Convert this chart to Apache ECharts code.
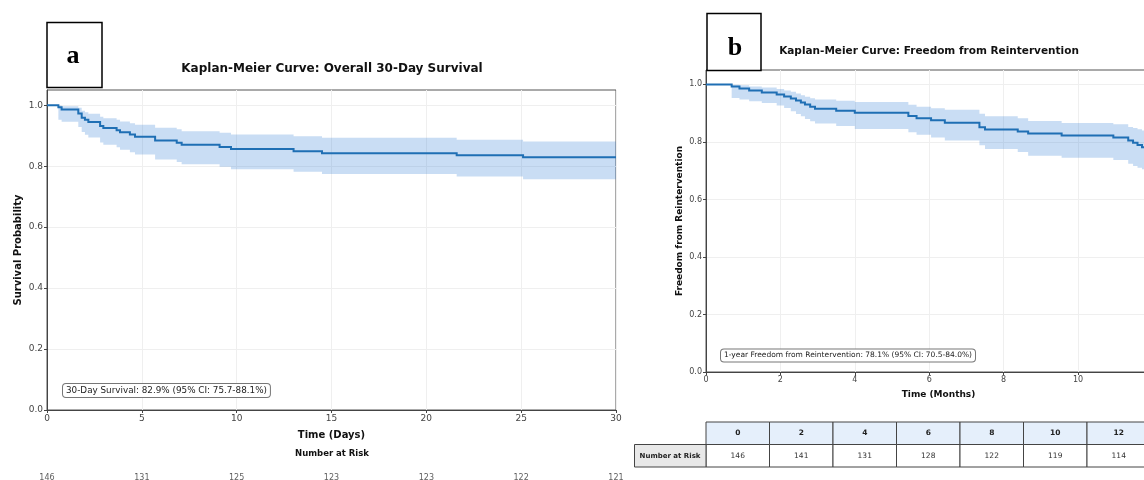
<!DOCTYPE html>
<html><head><meta charset="utf-8">
<script src="https://cdn.jsdelivr.net/npm/echarts@6/dist/echarts.min.js"></script>
<style>html,body{margin:0;padding:0;background:#fff}#c{width:1144px;height:480px}</style>
</head><body><div id="c"></div>
<script>
// ---- Panel a: overall 30-day survival (days) ----
const dayTimes = [0, 0.6, 0.77, 1.65, 1.83, 2.0, 2.18, 2.8, 2.97, 3.67, 3.85, 4.37, 4.64, 5.7, 6.84, 7.1, 9.1, 9.7, 13.0, 14.5, 21.6, 25.1, 30];
const daySurv  = [1.0, 0.993, 0.986, 0.973, 0.959, 0.952, 0.945, 0.932, 0.925, 0.918, 0.911, 0.904, 0.897, 0.884, 0.877, 0.870, 0.863, 0.856, 0.849, 0.8425, 0.8356, 0.829, 0.829];
const dayLower = [1.0, 0.952, 0.946, 0.929, 0.912, 0.903, 0.894, 0.878, 0.870, 0.862, 0.854, 0.846, 0.838, 0.822, 0.814, 0.806, 0.798, 0.790, 0.782, 0.774, 0.766, 0.757, 0.757];
const dayUpper = [1.0, 0.999, 0.997, 0.992, 0.982, 0.977, 0.972, 0.962, 0.957, 0.952, 0.947, 0.941, 0.936, 0.926, 0.921, 0.915, 0.910, 0.904, 0.898, 0.893, 0.887, 0.881, 0.881];
const riskDays = [0, 5, 10, 15, 20, 25, 30];
const riskDaysCount = [146, 131, 125, 123, 123, 122, 121];

// ---- Panel b: freedom from reintervention (months) ----
const monthTimes = [0, 0.69, 0.90, 1.16, 1.5, 1.90, 2.10, 2.28, 2.42, 2.55, 2.66, 2.80, 2.93, 3.50, 4.00, 5.44, 5.66, 6.05, 6.42, 7.35, 7.50, 8.38, 8.66, 9.56, 10.95, 11.35, 11.48, 11.60, 11.72, 12.5];
const monthSurv  = [1.0, 0.993, 0.986, 0.979, 0.972, 0.965, 0.958, 0.951, 0.944, 0.937, 0.930, 0.922, 0.915, 0.908, 0.901, 0.890, 0.882, 0.875, 0.867, 0.851, 0.843, 0.836, 0.829, 0.822, 0.815, 0.805, 0.797, 0.789, 0.781, 0.781];
const monthLower = [1.0, 0.953, 0.947, 0.941, 0.935, 0.927, 0.918, 0.907, 0.897, 0.889, 0.880, 0.872, 0.864, 0.855, 0.845, 0.834, 0.825, 0.815, 0.805, 0.788, 0.775, 0.765, 0.752, 0.745, 0.737, 0.724, 0.716, 0.710, 0.705, 0.705];
const monthUpper = [1.0, 0.999, 0.997, 0.993, 0.989, 0.984, 0.979, 0.974, 0.968, 0.962, 0.957, 0.952, 0.947, 0.943, 0.939, 0.929, 0.922, 0.917, 0.912, 0.898, 0.889, 0.882, 0.873, 0.866, 0.861, 0.852, 0.848, 0.844, 0.840, 0.840];
const riskMonths = ['0', '2', '4', '6', '8', '10', '12'];
const riskMonthsCount = [146, 141, 131, 128, 122, 119, 114];

const yTicks = [0, 0.2, 0.4, 0.6, 0.8, 1.0];

const FONT = 'DejaVu Sans';
const LINE = '#1f6fb4';
const BAND = 'rgba(40,120,210,0.25)';
const chart = echarts.init(document.getElementById('c'));

function bandSeries(times, lower, upper, idx) {
  return {
    type: 'custom', xAxisIndex: idx, yAxisIndex: idx, silent: true, z: 1, animation: false,
    data: [[times[0], upper[0]]],
    renderItem: function (params, api) {
      const pts = [];
      for (let i = 0; i < times.length - 1; i++) {
        pts.push(api.coord([times[i], upper[i]]));
        pts.push(api.coord([times[i + 1], upper[i]]));
      }
      for (let i = times.length - 2; i >= 0; i--) {
        pts.push(api.coord([times[i + 1], lower[i]]));
        pts.push(api.coord([times[i], lower[i]]));
      }
      return { type: 'polygon', shape: { points: pts }, style: { fill: BAND } };
    }
  };
}
// Kaplan-Meier step line (post-step), drawn through the axis scales
function kmSeries(times, surv, idx) {
  return {
    type: 'custom', xAxisIndex: idx, yAxisIndex: idx, silent: true, z: 3, animation: false,
    data: [[times[0], surv[0]]],
    renderItem: function (params, api) {
      const pts = [];
      for (let i = 0; i < times.length - 1; i++) {
        pts.push(api.coord([times[i], surv[i]]));
        pts.push(api.coord([times[i + 1], surv[i]]));
      }
      pts.push(api.coord([times[times.length - 1], surv[surv.length - 1]]));
      return { type: 'polyline', shape: { points: pts },
               style: { stroke: LINE, lineWidth: 2, fill: null, lineJoin: 'miter' } };
    }
  };
}
const yFmt = v => (Math.abs(v * 5 - Math.round(v * 5)) < 1e-6 ? v.toFixed(1) : '');
function xAx(idx, max, interval, name, fs, nfs, gap) {
  return {
    gridIndex: idx, type: 'value', min: 0, max: max, interval: interval,
    name: name, nameLocation: 'middle', nameGap: gap,
    nameTextStyle: { fontFamily: FONT, fontWeight: 'bold', fontSize: nfs, color: '#111' },
    axisLine: { show: true, onZero: false, lineStyle: { color: '#444', width: 1 } },
    axisTick: { show: true, length: 3, lineStyle: { color: '#444' } },
    axisLabel: { fontFamily: FONT, fontSize: fs, color: '#444', margin: 4 },
    splitLine: { show: true, lineStyle: { color: '#efefef', width: 1 } }
  };
}
function yAx(idx, name, fs, nfs, gap) {
  return {
    gridIndex: idx, type: 'value', min: 0, max: 1.05, interval: 0.2,
    name: name, nameLocation: 'middle', nameGap: gap, nameRotate: 90,
    nameTextStyle: { fontFamily: FONT, fontWeight: 'bold', fontSize: nfs, color: '#111' },
    axisLine: { show: true, lineStyle: { color: '#444', width: 1 } },
    axisTick: { show: true, length: 3, lineStyle: { color: '#444' }, customValues: yTicks },
    axisLabel: { fontFamily: FONT, fontSize: fs, color: '#444', margin: 4, formatter: yFmt, customValues: yTicks },
    splitLine: { show: true, lineStyle: { color: '#efefef', width: 1 } }
  };
}

const option = {
  animation: false,
  backgroundColor: '#ffffff',
  grid: [
    { left: 47, top: 90, width: 569, height: 320, show: true, borderColor: '#555', borderWidth: 1, outerBoundsMode: 'none' },
    { left: 706, top: 70, width: 465, height: 302, show: true, borderColor: '#555', borderWidth: 1, outerBoundsMode: 'none' },
    { left: 47, top: 472, width: 569, height: 12, outerBoundsMode: 'none' },
    { left: 706, top: 422, width: 444.5, height: 45, outerBoundsMode: 'none' }
  ],
  xAxis: [
    xAx(0, 30, 5, 'Time (Days)', 9, 10, 20),
    xAx(1, 12.5, 2, 'Time (Months)', 8, 9, 18),
    { gridIndex: 2, type: 'value', min: 0, max: 30, show: false },
    { gridIndex: 3, type: 'category', data: riskMonths, show: false, boundaryGap: true }
  ],
  yAxis: [
    yAx(0, 'Survival Probability', 9, 10, 24),
    yAx(1, 'Freedom from Reintervention', 8, 9, 22),
    { gridIndex: 2, type: 'value', min: -1, max: 1, show: false },
    { gridIndex: 3, type: 'value', min: 0, max: 2, show: false }
  ],
  series: [
    bandSeries(dayTimes, dayLower, dayUpper, 0),
    kmSeries(dayTimes, daySurv, 0),
    bandSeries(monthTimes, monthLower, monthUpper, 1),
    kmSeries(monthTimes, monthSurv, 1),
    {
      type: 'scatter', xAxisIndex: 2, yAxisIndex: 2, silent: true, symbolSize: 1,
      itemStyle: { color: 'rgba(0,0,0,0)' },
      data: riskDays.map((d, i) => [d, 0, riskDaysCount[i]]),
      label: { show: true, position: 'inside', formatter: p => String(p.value[2]),
               fontFamily: FONT, fontSize: 8, color: '#333' }
    },
    {
      type: 'custom', xAxisIndex: 3, yAxisIndex: 3, silent: true,
      data: riskMonthsCount.map((n, i) => [i, 0, n]),
      renderItem: function (params, api) {
        const i = api.value(0);
        const cx = api.coord([i, 0])[0];
        const w = api.size([1, 0])[0];
        const yTop = api.coord([i, 2])[1], yMid = api.coord([i, 1])[1], yBot = api.coord([i, 0])[1];
        return { type: 'group', children: [
          { type: 'rect', shape: { x: cx - w / 2, y: yTop, width: w, height: yMid - yTop },
            style: { fill: '#e5effb', stroke: '#444', lineWidth: 1 } },
          { type: 'text', style: { x: cx, y: (yTop + yMid) / 2, text: riskMonths[params.dataIndex],
            align: 'center', verticalAlign: 'middle', fontFamily: FONT, fontWeight: 'bold', fontSize: 7.5, fill: '#222' } },
          { type: 'rect', shape: { x: cx - w / 2, y: yMid, width: w, height: yBot - yMid },
            style: { fill: '#ffffff', stroke: '#444', lineWidth: 1 } },
          { type: 'text', style: { x: cx, y: (yMid + yBot) / 2, text: String(api.value(2)),
            align: 'center', verticalAlign: 'middle', fontFamily: FONT, fontSize: 7.5, fill: '#333' } }
        ] };
      }
    }
  ],
  graphic: [
    { type: 'rect', z: 100, shape: { x: 47, y: 22.5, width: 55, height: 65 }, style: { fill: '#fff', stroke: '#000', lineWidth: 1.5 } },
    { type: 'text', z: 101, style: { x: 73, y: 56, text: 'a', align: 'center', verticalAlign: 'middle',
      fontFamily: 'Liberation Serif', fontWeight: 'bold', fontSize: 26, fill: '#000' } },
    { type: 'rect', z: 100, shape: { x: 707, y: 13.5, width: 54, height: 57 }, style: { fill: '#fff', stroke: '#000', lineWidth: 1.5 } },
    { type: 'text', z: 101, style: { x: 735, y: 48, text: 'b', align: 'center', verticalAlign: 'middle',
      fontFamily: 'Liberation Serif', fontWeight: 'bold', fontSize: 26, fill: '#000' } },
    { type: 'text', z: 100, style: { x: 332, y: 69, text: 'Kaplan-Meier Curve: Overall 30-Day Survival', align: 'center', verticalAlign: 'middle',
      fontFamily: FONT, fontWeight: 'bold', fontSize: 12, fill: '#111' } },
    { type: 'text', z: 100, style: { x: 929, y: 51, text: 'Kaplan-Meier Curve: Freedom from Reintervention', align: 'center', verticalAlign: 'middle',
      fontFamily: FONT, fontWeight: 'bold', fontSize: 10.5, fill: '#111' } },
    { type: 'text', z: 100, style: { x: 332, y: 454, text: 'Number at Risk', align: 'center', verticalAlign: 'middle',
      fontFamily: FONT, fontWeight: 'bold', fontSize: 8.5, fill: '#111' } },
    { type: 'text', z: 100, style: { x: 63, y: 390.5, text: '30-Day Survival: 82.9% (95% CI: 75.7-88.1%)', align: 'left', verticalAlign: 'middle',
      fontFamily: FONT, fontSize: 8.8, fill: '#222', backgroundColor: '#fff', borderColor: '#777', borderWidth: 1, borderRadius: 3, padding: [2, 3] } },
    { type: 'text', z: 100, style: { x: 721, y: 355.5, text: '1-year Freedom from Reintervention: 78.1% (95% CI: 70.5-84.0%)', align: 'left', verticalAlign: 'middle',
      fontFamily: FONT, fontSize: 7.5, fill: '#222', backgroundColor: '#fff', borderColor: '#777', borderWidth: 1, borderRadius: 3, padding: [2, 3] } },
    { type: 'rect', z: 100, shape: { x: 634.5, y: 444.5, width: 71.5, height: 22.5 }, style: { fill: '#e8e8e8', stroke: '#444', lineWidth: 1 } },
    { type: 'text', z: 101, style: { x: 670, y: 456, text: 'Number at Risk', align: 'center', verticalAlign: 'middle',
      fontFamily: FONT, fontWeight: 'bold', fontSize: 7, fill: '#222' } }
  ]
};
chart.setOption(option);
</script>
</body></html>
